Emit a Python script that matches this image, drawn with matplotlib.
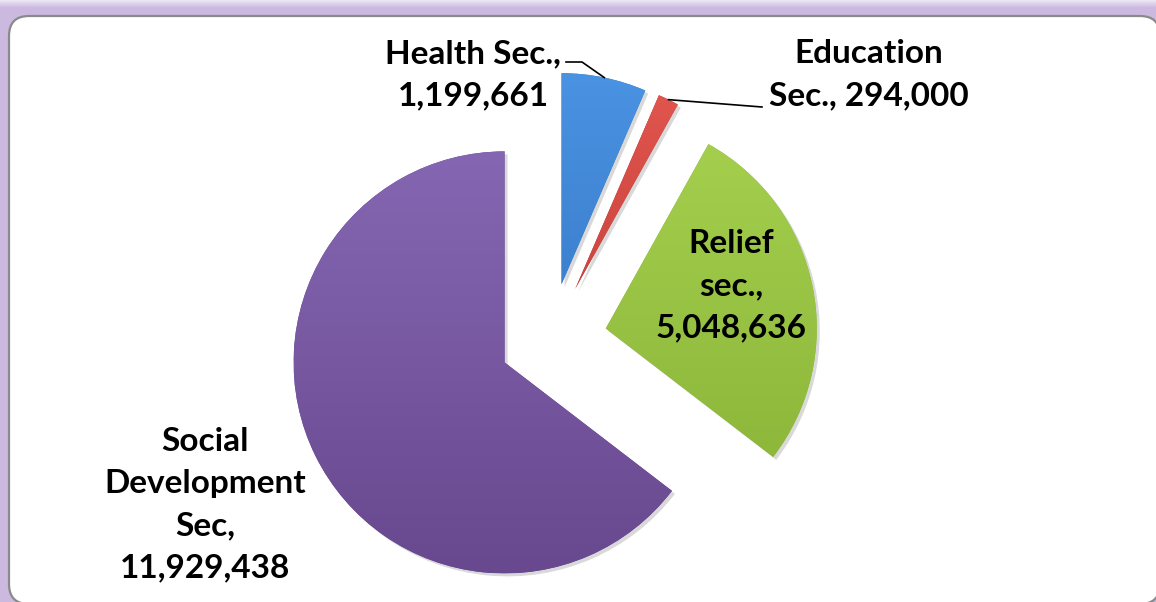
''' pie por setor '''
import numpy as np
import matplotlib.pyplot as plt
from matplotlib.patches import FancyBboxPatch, Wedge
from matplotlib.colors import LinearSegmentedColormap

W, H = 1156, 602
CX, CY, R = 550, 340, 211   # centro e raio do pie em pixels

setores = ['Health Sec.,\n1,199,661', 'Education\nSec., 294,000',
           'Relief\nsec.,\n5,048,636', 'Social\nDevelopment\nSec,\n11,929,438']
valores = [1199661, 294000, 5048636, 11929438]
explode = [0.27, 0.27, 0.27, 0.24]
cor_topo = ['#4a92e2', '#e2564f', '#a6d04e', '#8566b2']
cor_base = ['#2f70bd', '#b3332e', '#88b236', '#68498f']

# posicao dos rotulos (pixels)
pos_rot = [(473, 75), (869, 75), (731, 286), (205, 505)]


def px(x, y):
    return (x - CX) / R, (CY - y) / R


plt.rcParams['font.family'] = ['Lato', 'DejaVu Sans']
fig = plt.figure(figsize=(W / 100, H / 100), dpi=100, facecolor='#cbb9e0')
ax = fig.add_axes([0, 0, 1, 1])

wedges, _ = ax.pie(valores, explode=explode, startangle=90,
                   counterclock=False, radius=1, center=(0, 0))

x0, y0 = px(0, H)
x1, y1 = px(W, 0)

# faixa clara no topo (brilho da moldura)
ax.imshow(np.linspace(1, 0, 20).reshape(-1, 1),
          cmap=LinearSegmentedColormap.from_list('g', ['#cbb9e0', '#eee8f5']),
          extent=(x0, x1, px(0, 8)[1], y1), aspect='auto', zorder=0)

bx, by = px(9, 604)
bw = (1160 - 9) / R
bh = (604 - 16) / R
caixa = FancyBboxPatch((bx, by), bw, bh,
                       boxstyle='round,pad=0,rounding_size=%f' % (20 / R),
                       facecolor='white', edgecolor='#8a8a8a', lw=1.6, zorder=0.5)
ax.add_patch(caixa)

for i, w in enumerate(wedges):
    cx, cy = w.center
    # sombra
    sh = Wedge((cx + 3 / R, cy - 3 / R), 1, w.theta1, w.theta2,
               facecolor='#000000', alpha=0.15, lw=0, zorder=1)
    ax.add_patch(sh)
    w.set_facecolor(cor_base[i])
    w.set_edgecolor('none')
    w.set_zorder(2)
    cmap = LinearSegmentedColormap.from_list('c%d' % i, [cor_base[i], cor_topo[i]])
    img = ax.imshow(np.linspace(0, 1, 200).reshape(-1, 1)[::-1], cmap=cmap,
                    extent=(cx - 1, cx + 1, cy - 1, cy + 1), aspect='auto', zorder=3)
    img.set_clip_path(w)

ax.set_xlim(x0, x1)
ax.set_ylim(y0, y1)
ax.set_aspect('auto')
ax.axis('off')

for txt, (x, y) in zip(setores, pos_rot):
    ax.text(*px(x, y), txt, ha='center', va='center', fontsize=24,
            fontweight='bold', linespacing=1.55, zorder=5)

# linhas de chamada
th_h = np.deg2rad(90 - 360 * (valores[0] / 2) / sum(valores))
ph = (1 + explode[0]) * np.cos(th_h), (1 + explode[0]) * np.sin(th_h)
a = px(566, 62)
b = px(582, 62)
ax.plot([a[0], b[0], ph[0]], [a[1], b[1], ph[1]], color='black', lw=1.2, zorder=4)

th_e = np.deg2rad(90 - 360 * (valores[0] + valores[1] / 2) / sum(valores))
pe = (1 + explode[1]) * np.cos(th_e), (1 + explode[1]) * np.sin(th_e)
c = px(762, 107)
ax.plot([pe[0], c[0]], [pe[1], c[1]], color='black', lw=1.2, zorder=4)

plt.savefig('out.png', dpi=100, facecolor=fig.get_facecolor())
